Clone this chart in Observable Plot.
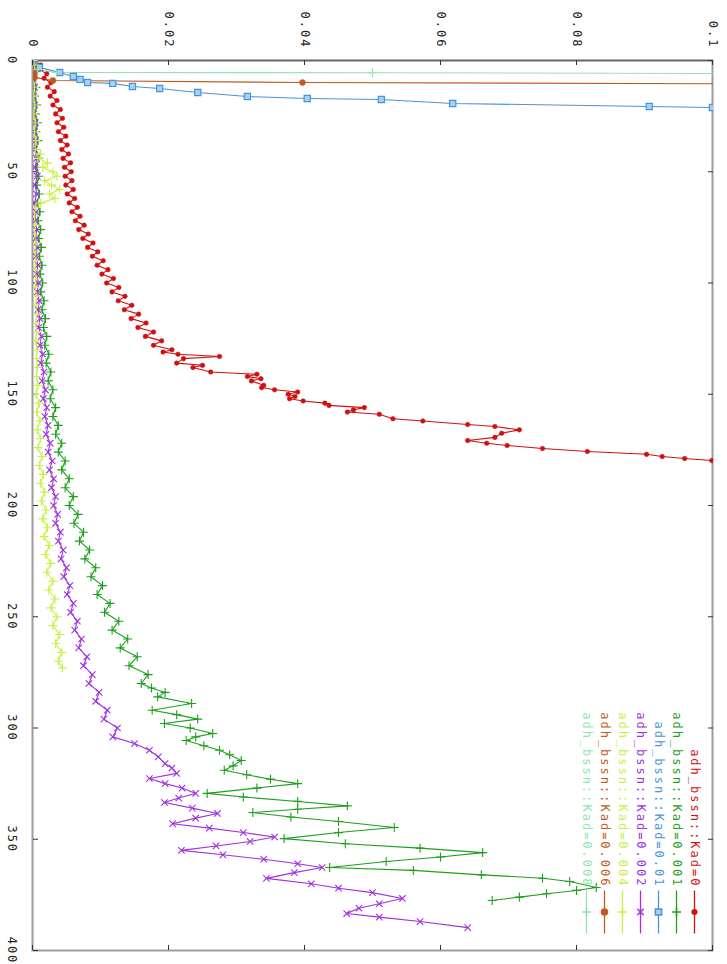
<!DOCTYPE html>
<html><head><meta charset="utf-8">
<script src="https://cdn.jsdelivr.net/npm/d3@7"></script>
<script src="https://cdn.jsdelivr.net/npm/@observablehq/plot@0.6"></script>
<style>
html,body{margin:0;padding:0;background:#fff;}
#wrap{position:relative;width:727px;height:964px;overflow:hidden;background:#fff;}
#chart{position:absolute;left:0;top:0;width:964px;height:727px;transform-origin:0 0;transform:translate(727px,0) rotate(90deg);}
#chart svg{max-width:none !important;width:964px;height:727px;display:block;}
#chart svg text{letter-spacing:2px;}
</style></head><body><div id="wrap"><div id="chart"></div></div>
<script>
// ---- tick values ----
const xTicks = [0, 50, 100, 150, 200, 250, 300, 350, 400];
const yTicks = [0, 0.02, 0.04, 0.06, 0.08, 0.1];

// ---- legend labels ----
const labels = ["adh_bssn::Kad=0", "adh_bssn::Kad=0.001", "adh_bssn::Kad=0.01", "adh_bssn::Kad=0.002",
                "adh_bssn::Kad=0.004", "adh_bssn::Kad=0.006", "adh_bssn::Kad=0.008"];
const colors = ["#d01010", "#1ca01c", "#4a92d8", "#a030e0", "#c8f046", "#c05a20", "#8ee6b0"];

// ---- series: Kad=0 (red) ----
const redX = [0,2,4,6,8,10,12,14,16,18,20,22,24,26,28,30,32,34,36,38,40,42,44,46,48,50,52,54,56,58,60,62,64,66,68,70,72,74,76,78,80,82,84,86,88,90,92,94,96,98,100,102,104,106,108,110,112,114,116,118,120,122,124,126,128,130,
  131,132,133,134,136,137,138,140,141,142,143,144,146,147,148,149,150,151,152,153,154,155,156,157,158,159,161,162,163.6,164.5,166,167.5,169.4,170.8,172,173,174.4,175.7,177,178,178.9,179.8,181];
const redY = [0.0003,0.0012,0.0010,0.0021,0.0017,0.0027,0.0022,0.0032,0.0026,0.0036,0.0030,0.0041,0.0034,0.0044,0.0036,0.0046,0.0038,0.0049,0.0041,0.0051,0.0043,0.0053,0.0045,0.0056,0.0047,0.0057,0.0048,0.0058,0.0049,0.0060,0.0051,0.0062,0.0054,0.0066,0.0058,0.0070,0.0063,0.0076,0.0068,0.0082,0.0074,0.0089,0.0081,0.0096,0.0088,0.0104,0.0095,0.0111,0.0102,0.0119,0.0109,0.0127,0.0117,0.0136,0.0126,0.0146,0.0135,0.0156,0.0145,0.0167,0.0155,0.0178,0.0166,0.0190,0.0178,0.0205,
  0.0192,0.0214,0.0275,0.0222,0.0212,0.0250,0.0236,0.0262,0.0330,0.0316,0.0336,0.0322,0.0340,0.0337,0.0356,0.0390,0.0376,0.0386,0.0378,0.0398,0.0430,0.0436,0.0488,0.0472,0.0463,0.0510,0.0530,0.0574,0.0640,0.0680,0.0716,0.0690,0.0680,0.0640,0.0668,0.0698,0.0750,0.0816,0.0903,0.0926,0.0959,0.0999,0.1100];

// ---- series: Kad=0.001 (green) ----
const greenX = [0,4,8,12,16,20,24,28,32,36,40,44,48,52,56,60,64,68,72,76,80,84,88,92,96,100,104,108,112,116,120,124,128,132,136,140,144,148,152,156,160,164,168,172,176,180,184,188,192,196,200,204,208,212,216,220,224,228,232,236,240,244,248,252,256,260,264,268,272,276,280,
  282,284,286,289,292,294,296,298,300,302.5,304,305.6,308,310,312,314.6,317,319,321,323,325,327,329.4,331,333,335,336.5,338,340,342,344.7,347,349.7,352,354,356,358,360,362.7,364,366,367.5,369,371.7,373,374.5,376,377.5];
const greenY = [0.0001,0.0003,0.0002,0.0005,0.0003,0.0006,0.0004,0.0007,0.0005,0.0008,0.0005,0.0009,0.0006,0.0009,0.0006,0.0010,0.0007,0.0011,0.0008,0.0012,0.0009,0.0013,0.0010,0.0014,0.0011,0.0015,0.0012,0.0017,0.0014,0.0019,0.0016,0.0021,0.0018,0.0024,0.0020,0.0027,0.0023,0.0030,0.0026,0.0034,0.0030,0.0038,0.0034,0.0043,0.0038,0.0048,0.0043,0.0054,0.0048,0.0060,0.0054,0.0067,0.0061,0.0075,0.0069,0.0084,0.0077,0.0093,0.0086,0.0103,0.0095,0.0114,0.0106,0.0127,0.0117,0.0140,0.0129,0.0154,0.0142,0.0170,0.0160,
  0.0175,0.0195,0.0184,0.0234,0.0176,0.0212,0.0243,0.0194,0.0232,0.0265,0.0240,0.0226,0.0252,0.0275,0.0290,0.0307,0.0295,0.0282,0.0315,0.0350,0.0390,0.0330,0.0257,0.0310,0.0390,0.0463,0.0390,0.0324,0.0380,0.0450,0.0532,0.0450,0.0370,0.0460,0.0570,0.0662,0.0600,0.0520,0.0437,0.0560,0.0660,0.0750,0.0790,0.0829,0.0800,0.0756,0.0716,0.0676];

// ---- series: Kad=0.01 (blue) ----
const blueX = [0,2,3.1,5.4,7.2,8.5,9.9,10.3,11.7,12.6,14.4,16.2,17.1,17.5,19.3,20.7,21.1,22];
const blueY = [0,0.0003,0.0010,0.0040,0.0060,0.0070,0.0081,0.0118,0.0147,0.0187,0.0243,0.0316,0.0404,0.0513,0.0618,0.0907,0.1000,0.1300];

// ---- series: Kad=0.002 (purple) ----
const purpleX = [0,4,8,12,16,20,24,28,32,36,40,44,48,52,56,60,64,68,72,76,80,84,88,92,96,100,104,108,112,116,120,124,128,132,136,140,144,148,152,156,160,164,168,172,176,180,184,188,192,196,200,204,208,212,216,220,224,228,232,236,240,244,248,252,256,260,264,268,272,276,280,284,288,292,296,300,304,307,
  310,313,316,318,320.4,322.7,325,327,329.4,331.5,333.5,336,338.4,340.5,343,345,347,349,351,353,355,357,359,361,362.7,365,367.6,370,372,374,376.6,379,381,383.4,385,387,389.7];
const purpleY = [0.0001,0.0002,0.0001,0.0003,0.0002,0.0003,0.0002,0.0004,0.0003,0.0004,0.0003,0.0006,0.0004,0.0007,0.0004,0.0006,0.0003,0.0005,0.0004,0.0006,0.0005,0.0007,0.0005,0.0008,0.0006,0.0009,0.0007,0.0010,0.0008,0.0011,0.0009,0.0013,0.0011,0.0015,0.0012,0.0017,0.0014,0.0019,0.0016,0.0021,0.0018,0.0023,0.0020,0.0026,0.0023,0.0029,0.0025,0.0031,0.0028,0.0034,0.0031,0.0037,0.0034,0.0041,0.0038,0.0045,0.0042,0.0050,0.0046,0.0055,0.0051,0.0060,0.0056,0.0066,0.0062,0.0072,0.0068,0.0080,0.0075,0.0088,0.0083,0.0098,0.0093,0.0110,0.0105,0.0125,0.0118,0.0150,
  0.0172,0.0185,0.0195,0.0205,0.0212,0.0172,0.0195,0.0220,0.0240,0.0215,0.0194,0.0235,0.0272,0.0240,0.0206,0.0260,0.0310,0.0356,0.0320,0.0270,0.0219,0.0280,0.0340,0.0390,0.0426,0.0385,0.0344,0.0410,0.0450,0.0500,0.0544,0.0510,0.0480,0.0462,0.0510,0.0570,0.0640];

// ---- series: Kad=0.004 (yellow-green) ----
const yellowX = [0,4,8,12,16,20,24,28,32,36,40,42,44,46,48,50,52,54,56,58,60,62,64,66,70,74,78,82,86,90,94,98,102,106,110,114,118,122,126,130,134,138,142,146,150,154,158,162,166,170,174,178,182,186,190,194,198,202,206,210,214,218,222,226,230,234,238,242,246,250,254,258,262,266,270,273];
const yellowY = [0.0001,0.0002,0.0001,0.0003,0.0002,0.0003,0.0002,0.0004,0.0003,0.0005,0.0004,0.0012,0.0008,0.0022,0.0015,0.0030,0.0036,0.0018,0.0028,0.0040,0.0025,0.0033,0.0012,0.0005,0.0003,0.0004,0.0003,0.0005,0.0004,0.0005,0.0004,0.0005,0.0004,0.0006,0.0005,0.0006,0.0005,0.0006,0.0005,0.0007,0.0006,0.0007,0.0006,0.0008,0.0005,0.0010,0.0006,0.0011,0.0007,0.0012,0.0008,0.0014,0.0010,0.0016,0.0012,0.0018,0.0013,0.0020,0.0015,0.0022,0.0017,0.0025,0.0019,0.0027,0.0021,0.0030,0.0024,0.0033,0.0027,0.0036,0.0030,0.0040,0.0034,0.0043,0.0038,0.0044];

// ---- series: Kad=0.006 (brown) ----
const brownX = [0,3,6,7.6,9,9.9,10.6];
const brownY = [0,0.0002,0.0003,0.0003,0.0030,0.0397,0.1200];

// ---- series: Kad=0.008 (light green) ----
const lgreenX = [0,2,4,5.4,5.5,6.5];
const lgreenY = [0,0.0003,0.0008,0.0035,0.0500,0.2000];

// ---- build ----
const rows = (xs, ys) => xs.map((x, i) => ({x, y: ys[i]}));
const W = 964, H = 727, mL = 60, mR = 14, mT = 14, mB = 33;
const fw = W - mL - mR, fh = H - mT - mB;
const FONT = "DejaVu Sans Mono";

const series = [
  {d: rows(redX, redY), sym: "circle", r: 2.3, filled: true},
  {d: rows(greenX, greenY), sym: "plus", r: 3, filled: false},
  {d: rows(blueX, blueY), sym: "square", r: 3.5, filled: "light"},
  {d: rows(purpleX, purpleY), sym: "times", r: 3, filled: false},
  {d: rows(yellowX, yellowY), sym: "plus", r: 3, filled: false},
  {d: rows(brownX, brownY), sym: "circle", r: 3, filled: true},
  {d: rows(lgreenX, lgreenY), sym: "plus", r: 3, filled: false}
];

const lineSym = {draw(ctx) { ctx.moveTo(-21.5, 0); ctx.lineTo(21.5, 0); }};

const marks = [
  Plot.frame({stroke: "#9c9c9c", strokeWidth: 2}),
  Plot.ruleX([0], {stroke: "#666", strokeWidth: 1.5}),
  Plot.tickX(xTicks, {x: d => d, insetTop: fh - 5, stroke: "#333"}),
  Plot.tickX(xTicks, {x: d => d, insetBottom: fh - 5, stroke: "#333"}),
  Plot.tickY(yTicks, {y: d => d, insetRight: fw - 5, stroke: "#333"}),
  Plot.tickY(yTicks, {y: d => d, insetLeft: fw - 5, stroke: "#333"})
];

series.forEach((s, i) => {
  marks.push(Plot.line(s.d, {x: "x", y: "y", stroke: colors[i], strokeWidth: 1.1, clip: true}));
});
series.forEach((s, i) => {
  const opts = {x: "x", y: "y", r: s.r, symbol: s.sym, clip: true};
  if (s.filled === true) { opts.fill = colors[i]; opts.stroke = colors[i]; opts.strokeWidth = 0.5; }
  else if (s.filled === "light") { opts.fill = "#a8cff0"; opts.stroke = colors[i]; opts.strokeWidth = 1.2; }
  else { opts.stroke = colors[i]; opts.strokeWidth = 1.1; opts.fill = "none"; }
  marks.push(Plot.dot(s.d, opts));
});

// legend (top-right of original frame)
labels.forEach((lab, i) => {
  const dy = 18 * (i + 1);
  marks.push(Plot.text([lab], {text: d => d, frameAnchor: "top-right", dx: -63, dy, textAnchor: "end",
    lineAnchor: "middle", fill: colors[i], fontSize: 12, fontFamily: FONT, ariaLabel: "legend"}));
  marks.push(Plot.dot([0], {frameAnchor: "top-right", dx: -38.5, dy, symbol: lineSym, stroke: colors[i], fill: "none", strokeWidth: 1.3}));
  const s = series[i];
  const o = {frameAnchor: "top-right", dx: -38.5, dy, symbol: s.sym, r: s.r};
  if (s.filled === true) { o.fill = colors[i]; o.stroke = colors[i]; }
  else if (s.filled === "light") { o.fill = "#a8cff0"; o.stroke = colors[i]; }
  else { o.stroke = colors[i]; o.fill = "none"; }
  marks.push(Plot.dot([0], o));
});

const chart = Plot.plot({
  width: W, height: H,
  marginLeft: mL, marginRight: mR, marginTop: mT, marginBottom: mB,
  style: {fontFamily: FONT, fontSize: "12px", color: "#222", background: "#fff", maxWidth: "none"},
  x: {domain: [0, 400], ticks: xTicks, tickSize: 0, tickPadding: 16, label: null},
  y: {domain: [0, 0.1], ticks: yTicks, tickSize: 0, tickPadding: 12, label: null, tickFormat: d => d3.format("~g")(d)},
  marks
});
document.getElementById("chart").appendChild(chart);
d3.select(chart).selectAll('g[aria-label="legend"] text').style("letter-spacing", "2.7px");
</script></body></html>
